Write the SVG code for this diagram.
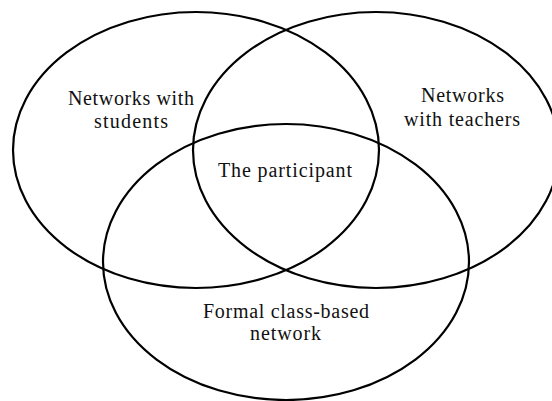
<svg xmlns="http://www.w3.org/2000/svg" width="552" height="401" viewBox="0 0 552 401">
<style>
.set{fill:none;stroke:#000;stroke-width:2.2}
.lbl{font-family:"Liberation Serif","Times New Roman",serif;font-size:20px;fill:#111;text-anchor:middle}
</style>
<rect width="552" height="401" fill="#fff"/>
<g id="students">
<ellipse class="set" cx="196" cy="150" rx="183" ry="138"/>
<text class="lbl" x="131" y="105" textLength="126" lengthAdjust="spacing">Networks with</text>
<text class="lbl" x="131" y="128" textLength="74" lengthAdjust="spacing">students</text>
</g>
<g id="teachers">
<ellipse class="set" cx="376" cy="150" rx="183" ry="138"/>
<text class="lbl" x="462.5" y="102" textLength="83" lengthAdjust="spacing">Networks</text>
<text class="lbl" x="462" y="126" textLength="116" lengthAdjust="spacing">with teachers</text>
</g>
<g id="formal">
<ellipse class="set" cx="286" cy="262" rx="183" ry="138"/>
<text class="lbl" x="286" y="318" textLength="166" lengthAdjust="spacing">Formal class-based</text>
<text class="lbl" x="285.5" y="340" textLength="71" lengthAdjust="spacing">network</text>
</g>
<g id="participant">
<text class="lbl" x="285" y="177" textLength="134" lengthAdjust="spacing">The participant</text>
</g>
<g id="connectors"></g>
</svg>
